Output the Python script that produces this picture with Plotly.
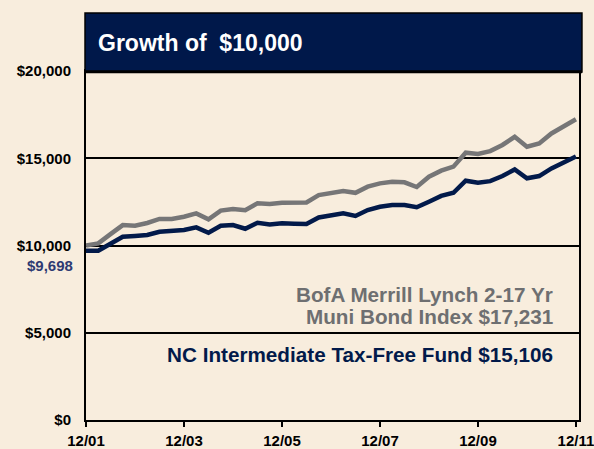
import plotly.graph_objects as go

quarters = list(range(41))
index_values = [10000, 10120, 10650, 11170, 11130, 11290, 11520, 11520, 11650, 11840,
                11500, 12000, 12090, 12020, 12420, 12380, 12450, 12460, 12470, 12890,
                12990, 13120, 13020, 13370, 13560, 13650, 13620, 13350, 13940, 14290,
                14520, 15320, 15240, 15410, 15760, 16230, 15660, 15850, 16420, 16850, 17231]
fund_values = [9698, 9700, 10100, 10500, 10550, 10600, 10790, 10830, 10890, 11040,
               10730, 11130, 11170, 10960, 11300, 11210, 11270, 11250, 11230, 11610,
               11750, 11840, 11690, 12030, 12220, 12320, 12320, 12190, 12510, 12840,
               13020, 13710, 13600, 13690, 13980, 14360, 13850, 13980, 14420, 14760, 15106]
x_tick_vals = [0, 8, 16, 24, 32, 40]
x_tick_labels = ["12/01", "12/03", "12/05", "12/07", "12/09", "12/11"]
y_tick_vals = [0, 5000, 10000, 15000, 20000]
y_tick_labels = ["$0", "$5,000", "$10,000", "$15,000", "$20,000"]

BG = "#F8EDDD"
NAVY = "#021A4A"
GREY = "#767677"
FONT = "Liberation Sans, Arial, sans-serif"

fig = go.Figure()
fig.add_trace(go.Scatter(x=quarters, y=index_values, mode="lines",
                         line=dict(color=GREY, width=4.5), showlegend=False,
                         hoverinfo="skip"))
fig.add_trace(go.Scatter(x=quarters, y=fund_values, mode="lines",
                         line=dict(color=NAVY, width=4.5), showlegend=False,
                         hoverinfo="skip"))

fig.update_layout(
    width=594, height=449, autosize=False,
    paper_bgcolor=BG, plot_bgcolor=BG,
    margin=dict(l=86, r=15, t=71, b=29, pad=0, autoexpand=False),
    font=dict(family=FONT, color="black"),
)
fig.update_xaxes(range=[0, 40.25], tickvals=x_tick_vals, ticktext=x_tick_labels,
                 showgrid=False, zeroline=False, showline=True, linecolor="black",
                 linewidth=2, mirror=True, ticks="outside", ticklen=5, tickwidth=2,
                 tickcolor="black", tickfont=dict(size=15, family=FONT, weight="bold"),
                 ticklabelstandoff=1, automargin=False, ticklabeloverflow="allow")
fig.update_yaxes(range=[0, 20000], tickvals=y_tick_vals, ticktext=y_tick_labels,
                 showgrid=True, gridcolor="black", gridwidth=2, zeroline=False,
                 showline=True, linecolor="black", linewidth=2, mirror=True,
                 ticks="", tickfont=dict(size=15, family=FONT, weight="bold"),
                 ticklabelstandoff=10, automargin=False)

# title box
fig.add_shape(type="rect", xref="paper", yref="paper", x0=-0.002, x1=1.006,
              y0=0.997, y1=1.166, fillcolor="#00184A",
              line=dict(color="black", width=1.5), layer="above")
fig.add_shape(type="line", xref="paper", yref="paper", x0=-0.002, x1=1.006,
              y0=0.998, y1=0.998, line=dict(color="black", width=3), layer="above")
fig.add_annotation(xref="paper", yref="paper", x=0.02, y=1.08, xanchor="left",
                   yanchor="middle", showarrow=False, text="Growth of  $10,000",
                   font=dict(size=23, color="white", family=FONT, weight="bold"))

fig.add_annotation(xref="paper", yref="paper", x=-0.022, y=(420 - 265) / 349,
                   xanchor="right", yanchor="middle", showarrow=False,
                   text="$9,698", font=dict(size=15, color="#2E3A72", family=FONT, weight="bold"))

LEG_SIZE = 20.7
fig.add_annotation(xref="paper", yref="paper", x=0.951, y=(420 - 294) / 349,
                   xanchor="right", yanchor="middle", showarrow=False,
                   text="BofA Merrill Lynch 2-17 Yr",
                   font=dict(size=LEG_SIZE, color="#6E6F71", family=FONT, weight="bold"))
fig.add_annotation(xref="paper", yref="paper", x=0.951, y=(420 - 316) / 349,
                   xanchor="right", yanchor="middle", showarrow=False,
                   text="Muni Bond Index $17,231",
                   font=dict(size=LEG_SIZE, color="#6E6F71", family=FONT, weight="bold"))
fig.add_annotation(xref="paper", yref="paper", x=0.951, y=(420 - 354) / 349,
                   xanchor="right", yanchor="middle", showarrow=False,
                   text="NC Intermediate Tax-Free Fund $15,106",
                   font=dict(size=LEG_SIZE, color=NAVY, family=FONT, weight="bold"))

fig.write_html(
    "out.html",
    config={"displayModeBar": False},
    post_script="document.body.style.margin='0';document.body.style.padding='0';"
                "document.body.style.backgroundColor='#F8EDDD';",
)
